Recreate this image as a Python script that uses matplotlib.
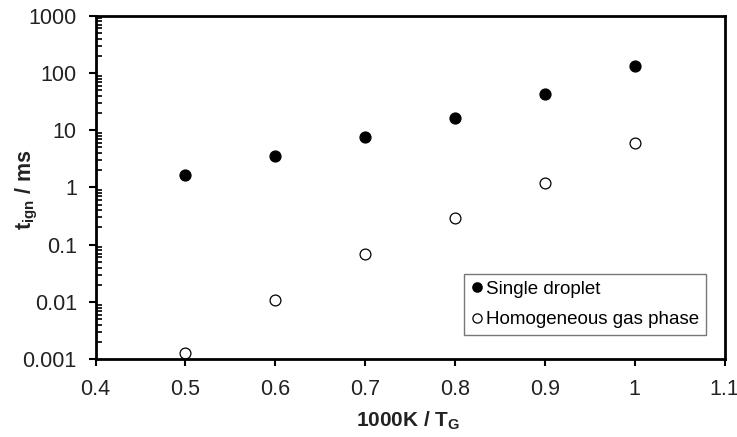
import numpy as np
import matplotlib
matplotlib.use("Agg")
import matplotlib.pyplot as plt
from matplotlib.ticker import LogLocator, FixedLocator, NullFormatter

plt.rcParams['font.family'] = ['Liberation Sans', 'DejaVu Sans']
plt.rcParams['mathtext.fontset'] = 'custom'
plt.rcParams['mathtext.rm'] = 'Liberation Sans:bold'
plt.rcParams['mathtext.bf'] = 'Liberation Sans:bold'

# inverse gas temperature, 1000K / T_G
x_vals = [0.5, 0.6, 0.7, 0.8, 0.9, 1.0]
# ignition delay in ms
droplet = [1.67, 3.57, 7.6, 16.3, 42.7, 134]
gas_phase = [0.00129, 0.0108, 0.069, 0.288, 1.22, 6.1]

x_ticks = [0.4, 0.5, 0.6, 0.7, 0.8, 0.9, 1, 1.1]
x_labels = ['0.4', '0.5', '0.6', '0.7', '0.8', '0.9', '1', '1.1']
y_ticks = [0.001, 0.01, 0.1, 1, 10, 100, 1000]
y_labels = ['0.001', '0.01', '0.1', '1', '10', '100', '1000']

fig = plt.figure(figsize=(7.37, 4.37), dpi=100)
ax = fig.add_axes([0.1296, 0.178, 0.8535, 0.786])

ax.plot(x_vals, droplet, 'o', color='black', ms=7.8, label='Single droplet')
ax.plot(x_vals, gas_phase, 'o', mfc='white', mec='black', mew=0.9, ms=7.8,
        label='Homogeneous gas phase')

ax.set_yscale('log')
ax.set_xlim(0.4, 1.1)
ax.set_ylim(0.001, 1000)
ax.xaxis.set_major_locator(FixedLocator(x_ticks))
ax.set_xticklabels(x_labels)
ax.yaxis.set_major_locator(FixedLocator(y_ticks))
ax.set_yticklabels(y_labels)
ax.yaxis.set_minor_locator(LogLocator(base=10, subs=np.arange(2, 10)))
ax.yaxis.set_minor_formatter(NullFormatter())

for s in ax.spines.values():
    s.set_linewidth(2)
ax.tick_params(axis='both', which='major', direction='out', length=5, width=1.5,
               labelsize=15.5, colors='black', labelcolor='#222222')
ax.tick_params(axis='y', which='major', pad=8.5)
ax.tick_params(axis='x', which='major', pad=9)
ax.tick_params(axis='y', which='minor', direction='in', length=4, width=1.2)

ax.set_xlabel(r'1000K / T$_\mathrm{G}$', fontsize=15, fontweight='bold', color='#222222')
ax.set_ylabel(r'$\mathrm{t_{ign}}$ / ms', fontsize=15.5, fontweight='bold', color='#222222')
ax.xaxis.set_label_coords(0.497, -0.145)
ax.yaxis.set_label_coords(-0.089, 0.494)

leg = ax.legend(loc='lower right', bbox_to_anchor=(0.9706, 0.0707), fontsize=13.5,
                frameon=True, fancybox=False, handletextpad=0.2,
                markerscale=0.85, borderpad=0.36, labelspacing=0.7,
                handlelength=0.6, borderaxespad=0)
leg.get_frame().set_edgecolor('#555555')
leg.get_frame().set_linewidth(1.0)

fig.savefig('out.png', dpi=100)
